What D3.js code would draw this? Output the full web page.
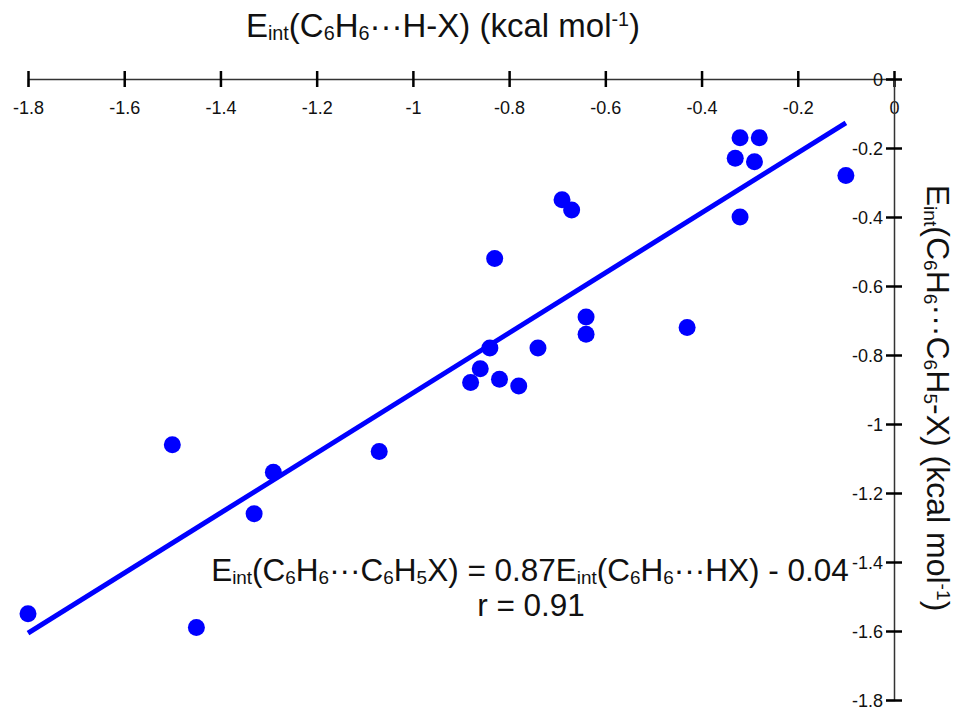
<!DOCTYPE html>
<html>
<head>
<meta charset="utf-8">
<script src="https://cdn.jsdelivr.net/npm/d3@7"></script>
<style>
  html, body { margin: 0; padding: 0; background: #fff; }
  svg { display: block; }
  text { font-family: "Liberation Sans", Arial, sans-serif; fill: #111; }
</style>
</head>
<body>
<svg id="chart" width="961" height="712"></svg>
<script>
// Interaction energies (kcal/mol): benzene···H-X (x) vs benzene···C6H5-X (y)
const xVals = [-1.80, -1.50, -1.45, -1.33, -1.29, -1.07, -0.88, -0.86, -0.84, -0.83, -0.82, -0.78,
               -0.74, -0.69, -0.67, -0.64, -0.64, -0.43, -0.33, -0.32, -0.32, -0.29, -0.28, -0.10];
const yVals = [-1.55, -1.06, -1.59, -1.26, -1.14, -1.08, -0.88, -0.84, -0.78, -0.52, -0.87, -0.89,
               -0.78, -0.35, -0.38, -0.69, -0.74, -0.72, -0.23, -0.17, -0.40, -0.24, -0.17, -0.28];

// Linear fit: y = slope * x + intercept, drawn over this x span
const fitSlope = 0.87;
const fitIntercept = -0.04;
const fitSpan = [-1.80, -0.10];

const xTicks = [-1.8, -1.6, -1.4, -1.2, -1.0, -0.8, -0.6, -0.4, -0.2, 0];
const yTicks = [0, -0.2, -0.4, -0.6, -0.8, -1.0, -1.2, -1.4, -1.6, -1.8];

const svg = d3.select("#chart");

const x = d3.scaleLinear().domain([-1.8, 0]).range([28, 894]);
const y = d3.scaleLinear().domain([0, -1.8]).range([79, 700]);

const fmt = d => String(Math.round(d * 10) / 10);

// Top axis, labels below the line, ticks crossing the line
const xAxis = svg.append("g")
  .attr("transform", `translate(0,${y(0)})`)
  .call(d3.axisBottom(x).tickValues(xTicks).tickFormat(fmt).tickSizeOuter(0).tickSize(8));
xAxis.select(".domain").attr("stroke", "#333").attr("stroke-width", 1.5);
xAxis.selectAll(".tick line").attr("y1", -8).attr("y2", 8).attr("stroke", "#000").attr("stroke-width", 2.5);
xAxis.selectAll(".tick text").attr("y", 35).attr("dy", null)
  .style("font-size", "18px").style("font-family", "Liberation Sans, Arial, sans-serif").attr("fill", "#111");

// Right axis, labels on the left, ticks crossing the line
const yAxis = svg.append("g")
  .attr("transform", `translate(${x(0)},0)`)
  .call(d3.axisLeft(y).tickValues(yTicks).tickFormat(fmt).tickSizeOuter(0).tickSize(8));
yAxis.select(".domain").attr("stroke", "#333").attr("stroke-width", 1.5);
yAxis.selectAll(".tick line").attr("x1", -8).attr("x2", 8).attr("stroke", "#000").attr("stroke-width", 2.5);
yAxis.selectAll(".tick text").attr("x", -11).attr("dy", "0.36em")
  .style("font-size", "18px").style("font-family", "Liberation Sans, Arial, sans-serif").attr("fill", "#111");

// Fit line
svg.append("line")
  .attr("x1", x(fitSpan[0])).attr("y1", y(fitSlope * fitSpan[0] + fitIntercept))
  .attr("x2", x(fitSpan[1])).attr("y2", y(fitSlope * fitSpan[1] + fitIntercept))
  .attr("stroke", "#0000ff").attr("stroke-width", 5);

// Data points
svg.append("g").selectAll("circle")
  .data(xVals.map((v, i) => [v, yVals[i]]))
  .join("circle")
  .attr("cx", d => x(d[0]))
  .attr("cy", d => y(d[1]))
  .attr("r", 8.5)
  .attr("fill", "#0000ff");

// Rich text helper: segments of [text, kind] where kind is "", "sub" or "sup"
function richText(sel, segs, size) {
  const small = size * 0.6;
  let shift = 0;
  segs.forEach(([t, kind]) => {
    const target = kind === "sub" ? size * 0.1 : kind === "sup" ? -size * 0.32 : 0;
    sel.append("tspan")
      .attr("dy", target - shift)
      .style("font-size", (kind ? small : size) + "px")
      .text(t);
    shift = target;
  });
}

const dots = "\u00B7\u00B7\u00B7";

// Top axis title
richText(
  svg.append("text").attr("x", 443).attr("y", 37).attr("text-anchor", "middle"),
  [["E", ""], ["int", "sub"], ["(C", ""], ["6", "sub"], ["H", ""], ["6", "sub"],
   [dots + "H-X) (kcal mol", ""], ["-1", "sup"], [")", ""]], 33);

// Right axis title, rotated
richText(
  svg.append("text").attr("transform", "translate(927,398) rotate(90)").attr("text-anchor", "middle"),
  [["E", ""], ["int", "sub"], ["(C", ""], ["6", "sub"], ["H", ""], ["6", "sub"],
   [dots + "C", ""], ["6", "sub"], ["H", ""], ["5", "sub"],
   ["-X) (kcal mol", ""], ["-1", "sup"], [")", ""]], 32);

// Regression equation
richText(
  svg.append("text").attr("x", 530).attr("y", 581).attr("text-anchor", "middle"),
  [["E", ""], ["int", "sub"], ["(C", ""], ["6", "sub"], ["H", ""], ["6", "sub"],
   [dots + "C", ""], ["6", "sub"], ["H", ""], ["5", "sub"],
   ["X) = 0.87E", ""], ["int", "sub"], ["(C", ""], ["6", "sub"], ["H", ""], ["6", "sub"],
   [dots + "HX) - 0.04", ""]], 31.5);

svg.append("text").attr("x", 531).attr("y", 616).attr("text-anchor", "middle")
  .style("font-size", "31.5px").text("r = 0.91");
</script>
</body>
</html>
